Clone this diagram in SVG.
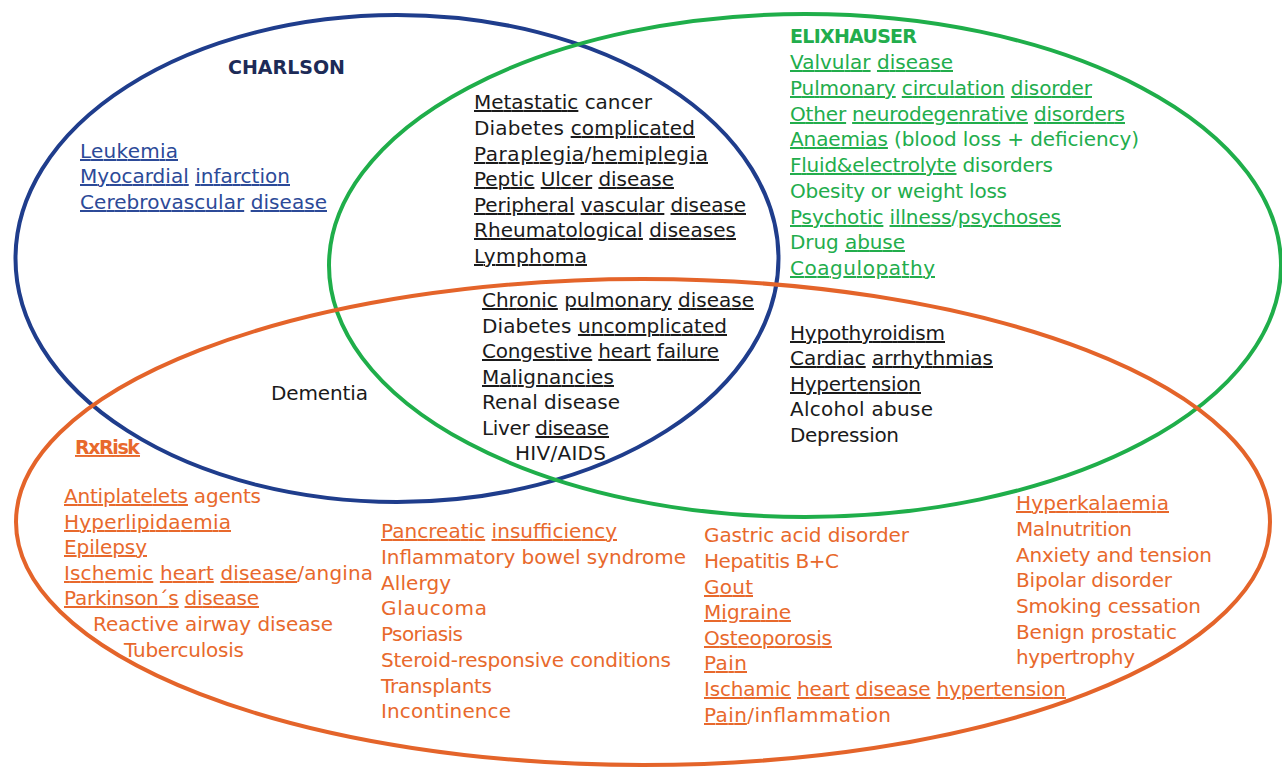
<svg xmlns="http://www.w3.org/2000/svg" width="1282" height="768" viewBox="0 0 1282 768">
<style>
text{font-family:"DejaVu Sans","Liberation Sans",sans-serif;font-size:20px}
.t{font-weight:bold;font-size:19px}
.k{fill:#1a1a1a}
.b{fill:#2c4a98}
.bt{fill:#1d2b57}
.g{fill:#22ad4c}
.o{fill:#e8692c}
.u{text-decoration:underline}
.ring{fill:none;stroke-width:4}
</style>
<rect width="1282" height="768" fill="#ffffff"/>
<g id="sets">
<ellipse id="charlson-set" class="ring" cx="397" cy="258.5" rx="381.5" ry="243.5" stroke="#1f3d8c"/>
<ellipse id="elixhauser-set" class="ring" cx="805" cy="265.5" rx="476" ry="251.5" stroke="#1fae4a"/>
<ellipse id="rxrisk-set" class="ring" cx="643" cy="522" rx="627" ry="243" stroke="#e4642a"/>
</g>
<g id="charlson">
<text class="t bt" x="228" y="74" textLength="117">CHARLSON</text>
<text class="b" x="80" y="158" textLength="98"><tspan class="u">Leukemia</tspan></text>
<text class="b" x="80" y="183" textLength="210"><tspan class="u">Myocardial</tspan> <tspan class="u">infarction</tspan></text>
<text class="b" x="80" y="209" textLength="247"><tspan class="u">Cerebrovascular</tspan> <tspan class="u">disease</tspan></text>
</g>
<g id="charlson-elixhauser">
<text class="k" x="474" y="109" textLength="178"><tspan class="u">Metastatic</tspan> cancer</text>
<text class="k" x="474" y="135" textLength="221">Diabetes <tspan class="u">complicated</tspan></text>
<text class="k" x="474" y="161" textLength="234"><tspan class="u">Paraplegia</tspan>/<tspan class="u">hemiplegia</tspan></text>
<text class="k" x="474" y="186" textLength="200"><tspan class="u">Peptic</tspan> <tspan class="u">Ulcer</tspan> <tspan class="u">disease</tspan></text>
<text class="k" x="474" y="212" textLength="272"><tspan class="u">Peripheral</tspan> <tspan class="u">vascular</tspan> <tspan class="u">disease</tspan></text>
<text class="k" x="474" y="237" textLength="262"><tspan class="u">Rheumatological</tspan> <tspan class="u">diseases</tspan></text>
<text class="k" x="474" y="263" textLength="113"><tspan class="u">Lymphoma</tspan></text>
</g>
<g id="elixhauser">
<text class="t g" x="790" y="43" textLength="127">ELIXHAUSER</text>
<text class="g" x="790" y="69" textLength="163"><tspan class="u">Valvular</tspan> <tspan class="u">disease</tspan></text>
<text class="g" x="790" y="95" textLength="302"><tspan class="u">Pulmonary</tspan> <tspan class="u">circulation</tspan> <tspan class="u">disorder</tspan></text>
<text class="g" x="790" y="121" textLength="335"><tspan class="u">Other</tspan> <tspan class="u">neurodegenrative</tspan> <tspan class="u">disorders</tspan></text>
<text class="g" x="790" y="146" textLength="349"><tspan class="u">Anaemias</tspan> (blood loss + deficiency)</text>
<text class="g" x="790" y="172" textLength="263"><tspan class="u">Fluid&amp;electrolyte</tspan> disorders</text>
<text class="g" x="790" y="198" textLength="217">Obesity or weight loss</text>
<text class="g" x="790" y="224" textLength="271"><tspan class="u">Psychotic</tspan> <tspan class="u">illness</tspan>/<tspan class="u">psychoses</tspan></text>
<text class="g" x="790" y="249" textLength="115">Drug <tspan class="u">abuse</tspan></text>
<text class="g" x="790" y="275" textLength="145"><tspan class="u">Coagulopathy</tspan></text>
</g>
<g id="all-three">
<text class="k" x="482" y="307" textLength="272"><tspan class="u">Chronic</tspan> <tspan class="u">pulmonary</tspan> <tspan class="u">disease</tspan></text>
<text class="k" x="482" y="333" textLength="245">Diabetes <tspan class="u">uncomplicated</tspan></text>
<text class="k" x="482" y="358" textLength="237"><tspan class="u">Congestive</tspan> <tspan class="u">heart</tspan> <tspan class="u">failure</tspan></text>
<text class="k" x="482" y="384" textLength="132"><tspan class="u">Malignancies</tspan></text>
<text class="k" x="482" y="409" textLength="138">Renal disease</text>
<text class="k" x="482" y="435" textLength="127">Liver <tspan class="u">disease</tspan></text>
<text class="k" x="515" y="460" textLength="91">HIV/AIDS</text>
</g>
<g id="charlson-rxrisk">
<text class="k" x="271" y="400" textLength="97">Dementia</text>
</g>
<g id="elixhauser-rxrisk">
<text class="k" x="790" y="340" textLength="155"><tspan class="u">Hypothyroidism</tspan></text>
<text class="k" x="790" y="365" textLength="203"><tspan class="u">Cardiac</tspan> <tspan class="u">arrhythmias</tspan></text>
<text class="k" x="790" y="391" textLength="131"><tspan class="u">Hypertension</tspan></text>
<text class="k" x="790" y="416" textLength="143">Alcohol abuse</text>
<text class="k" x="790" y="442" textLength="109">Depression</text>
</g>
<g id="rxrisk">
<text class="t o" x="75" y="454" textLength="65"><tspan class="u">RxRisk</tspan></text>
<text class="o" x="64" y="503" textLength="197"><tspan class="u">Antiplatelets</tspan> agents</text>
<text class="o" x="64" y="529" textLength="167"><tspan class="u">Hyperlipidaemia</tspan></text>
<text class="o" x="64" y="554" textLength="83"><tspan class="u">Epilepsy</tspan></text>
<text class="o" x="64" y="580" textLength="309"><tspan class="u">Ischemic</tspan> <tspan class="u">heart</tspan> <tspan class="u">disease</tspan>/angina</text>
<text class="o" x="64" y="605" textLength="195"><tspan class="u">Parkinson´s</tspan> <tspan class="u">disease</tspan></text>
<text class="o" x="93" y="631" textLength="240">Reactive airway disease</text>
<text class="o" x="124" y="657" textLength="120">Tuberculosis</text>
<text class="o" x="381" y="538" textLength="236"><tspan class="u">Pancreatic</tspan> <tspan class="u">insufficiency</tspan></text>
<text class="o" x="381" y="564" textLength="305">Inflammatory bowel syndrome</text>
<text class="o" x="381" y="590" textLength="70">Allergy</text>
<text class="o" x="381" y="615" textLength="106">Glaucoma</text>
<text class="o" x="381" y="641" textLength="82">Psoriasis</text>
<text class="o" x="381" y="667" textLength="290">Steroid-responsive conditions</text>
<text class="o" x="381" y="693" textLength="111">Transplants</text>
<text class="o" x="381" y="718" textLength="130">Incontinence</text>
<text class="o" x="704" y="542" textLength="205">Gastric acid disorder</text>
<text class="o" x="704" y="568" textLength="135">Hepatitis B+C</text>
<text class="o" x="704" y="594" textLength="49"><tspan class="u">Gout</tspan></text>
<text class="o" x="704" y="619" textLength="87"><tspan class="u">Migraine</tspan></text>
<text class="o" x="704" y="645" textLength="128"><tspan class="u">Osteoporosis</tspan></text>
<text class="o" x="704" y="670" textLength="43"><tspan class="u">Pain</tspan></text>
<text class="o" x="704" y="696" textLength="362"><tspan class="u">Ischamic</tspan> <tspan class="u">heart</tspan> <tspan class="u">disease</tspan> <tspan class="u">hypertension</tspan></text>
<text class="o" x="704" y="722" textLength="187"><tspan class="u">Pain</tspan>/inflammation</text>
<text class="o" x="1016" y="510" textLength="153"><tspan class="u">Hyperkalaemia</tspan></text>
<text class="o" x="1016" y="536" textLength="116">Malnutrition</text>
<text class="o" x="1016" y="562" textLength="196">Anxiety and tension</text>
<text class="o" x="1016" y="587" textLength="156">Bipolar disorder</text>
<text class="o" x="1016" y="613" textLength="185">Smoking cessation</text>
<text class="o" x="1016" y="639" textLength="161">Benign prostatic</text>
<text class="o" x="1016" y="664" textLength="119">hypertrophy</text>
</g>
</svg>
